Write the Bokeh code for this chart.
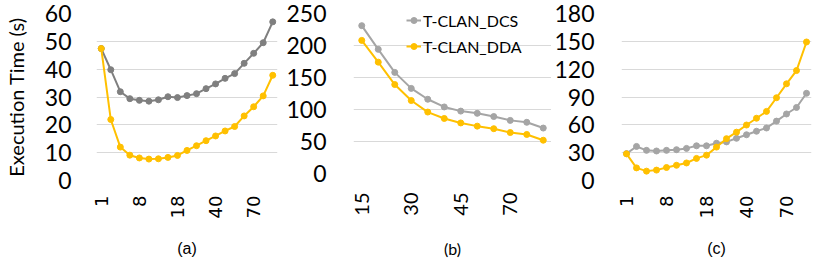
from bokeh.plotting import figure
from bokeh.layouts import row
from bokeh.models import Range1d, FixedTicker, Legend, LegendItem
from bokeh.embed import file_html
from bokeh.resources import INLINE

# ---------------- data ----------------
cats_ac = ["1", "2", "4", "6", "8", "10", "12", "15", "18", "25",
           "30", "35", "40", "45", "50", "60", "70", "80", "90"]
cats_b = ["15", "20", "25", "30", "35", "40", "45", "50", "60", "70", "80", "90"]
shown_ac = ["1", "8", "18", "40", "70"]
shown_b = ["15", "30", "45", "70"]

a_dcs = [47.4, 39.8, 31.9, 29.4, 28.8, 28.5, 29.0, 30.1, 29.8, 30.5,
         31.2, 33.0, 34.7, 36.7, 38.4, 42.1, 45.7, 49.5, 57.0]
a_dda = [47.4, 21.9, 12.0, 9.1, 8.1, 7.7, 7.8, 8.3, 9.0, 10.8,
         12.5, 14.3, 16.0, 17.8, 19.4, 23.2, 26.5, 30.4, 37.8]

b_dcs = [231, 194, 158, 133, 116, 104, 97.5, 94, 89, 83, 80, 71]
b_dda = [208, 174, 139, 114, 96, 86, 79, 74, 70, 64, 61, 52]

c_dcs = [29.0, 36.7, 32.5, 31.8, 32.5, 33.2, 34.6, 37.4, 37.4, 40.2,
         41.6, 45.5, 49.3, 53.1, 56.6, 64.0, 71.7, 78.7, 94.0]
c_dda = [28.7, 13.6, 10.1, 11.2, 14.0, 16.4, 18.9, 23.8, 27.3, 36.0,
         45.1, 52.1, 59.8, 67.1, 74.5, 89.2, 104.2, 118.5, 149.3]

a_yticks = [0, 10, 20, 30, 40, 50, 60]
b_yticks = [0, 50, 100, 150, 200, 250]
c_yticks = [0, 30, 60, 90, 120, 150, 180]

YELLOW = "#FFC000"
GRAY_A = "#7F7F7F"
GRAY = "#A5A5A5"


def panel(cats, shown, dcs, dda, yticks, gray, fw, fh, left, right, top, bottom,
          caption, xfont, xsize, capfont, ylabel=None, ystand=25, xstand=15, capstand=10):
    p = figure(frame_width=fw, frame_height=fh, output_backend="svg",
               toolbar_location=None,
               x_range=Range1d(-0.5, len(cats) - 0.5),
               y_range=Range1d(yticks[0], yticks[-1]),
               min_border_left=left, min_border_right=right,
               min_border_top=top, min_border_bottom=bottom)
    p.outline_line_color = None
    xs = list(range(len(cats)))
    r1 = p.line(xs, dcs, color=gray, line_width=2)
    r2 = p.scatter(xs, dcs, color=gray, size=6)
    r3 = p.line(xs, dda, color=YELLOW, line_width=2)
    r4 = p.scatter(xs, dda, color=YELLOW, size=6)

    tick_idx = [cats.index(s) for s in shown]
    p.xaxis.ticker = FixedTicker(ticks=tick_idx, minor_ticks=[])
    p.xaxis.major_label_overrides = {i: cats[i] for i in tick_idx}
    p.xaxis.major_label_orientation = 3.14159265 / 2
    p.xaxis.major_label_text_font = xfont
    p.xaxis.major_label_text_font_size = xsize
    p.xaxis.major_label_standoff = xstand
    p.xaxis.axis_label = caption
    p.xaxis.axis_label_text_font = capfont
    p.xaxis.axis_label_text_font_size = "16px"
    p.xaxis.axis_label_text_font_style = "normal"
    p.xaxis.axis_label_standoff = capstand

    p.yaxis.ticker = FixedTicker(ticks=yticks, minor_ticks=[])
    p.yaxis.major_label_text_font = "Lato"
    p.yaxis.major_label_text_font_size = "23px"
    p.yaxis.major_label_standoff = ystand
    if ylabel:
        p.yaxis.axis_label = ylabel
        p.yaxis.axis_label_text_font = "Lato"
        p.yaxis.axis_label_text_font_size = "20px"
        p.yaxis.axis_label_text_font_style = "normal"
        p.yaxis.axis_label_standoff = 14

    for ax in (p.xaxis, p.yaxis):
        ax.axis_line_color = None
        ax.major_tick_line_color = None
        ax.minor_tick_line_color = None
        ax.major_tick_out = 0
        ax.major_tick_in = 0
        ax.major_label_text_color = "#000000"
        ax.axis_label_text_color = "#000000"

    p.xgrid.visible = False
    p.ygrid.grid_line_color = "#D9D9D9"
    p.ygrid.grid_line_width = 1
    return p, (r1, r2, r3, r4)


pa, _ = panel(cats_ac, shown_ac, a_dcs, a_dda, a_yticks, GRAY_A, 181, 167, 95, 6, 13, 60,
              "(a)", "DejaVu Sans", "18px", "Liberation Sans",
              ylabel="Execution Time (s)", ystand=25, xstand=15, capstand=19)
pb, rb = panel(cats_b, shown_b, b_dcs, b_dda, b_yticks, GRAY, 198, 160, 70, 0, 13, 60,
               "(b)", "Lato", "20px", "Lato", ystand=27, xstand=19, capstand=20)
pc, _ = panel(cats_ac, shown_ac, c_dcs, c_dda, c_yticks, GRAY, 190, 167, 69, 5, 13, 60,
              "(c)", "DejaVu Sans", "18px", "Liberation Sans",
              ystand=27, xstand=15, capstand=19)

legend = Legend(items=[LegendItem(label="T-CLAN_DCS", renderers=[rb[0], rb[1]]),
                       LegendItem(label="T-CLAN_DDA", renderers=[rb[2], rb[3]])],
                location=(53, 117))
legend.background_fill_alpha = 0
legend.border_line_color = None
legend.padding = 0
legend.margin = 0
legend.spacing = 6
legend.glyph_width = 15
legend.glyph_height = 20
legend.label_height = 20
legend.label_standoff = 2
legend.label_text_font = "Lato"
legend.label_text_font_size = "16px"
legend.label_text_color = "#000000"
pb.add_layout(legend)

layout = row(pa, pb, pc)
open("out.html", "w").write(file_html(layout, INLINE))
